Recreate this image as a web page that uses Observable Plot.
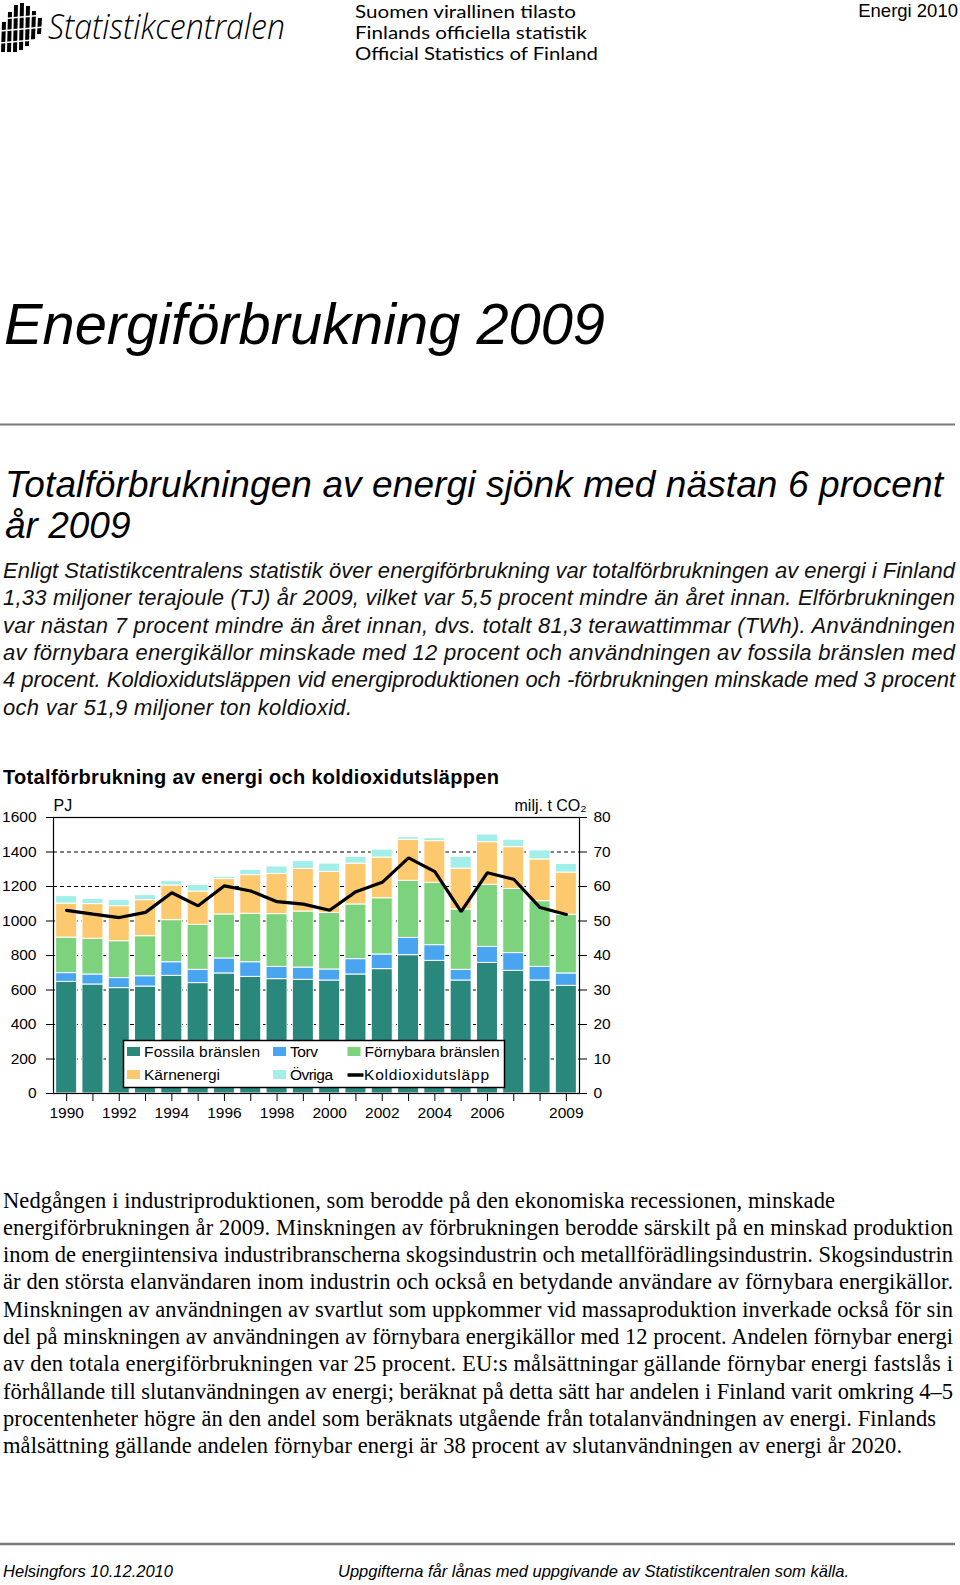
<!DOCTYPE html>
<html><head><meta charset="utf-8">
<script src="https://cdn.jsdelivr.net/npm/d3@7"></script>
<script src="https://cdn.jsdelivr.net/npm/@observablehq/plot@0.6"></script>
<style>
html,body{margin:0;padding:0;background:#fff;}
#page{position:relative;width:960px;height:1585px;overflow:hidden;background:#fff;}
#page > *{position:absolute;}
.sans{font-family:"Liberation Sans",Arial,Helvetica,sans-serif;}
.serif{font-family:"Liberation Serif","Times New Roman",serif;}
</style></head>
<body><div id="page">
<svg id="doc" width="960" height="1585" style="left:0;top:0" xmlns="http://www.w3.org/2000/svg">
  <!-- logo mark -->
  <g fill="#000">
    <polygon points="2,22 6,22 5,52 1,52"/>
    <polygon points="8,12 12,12 11,52 7,52"/>
    <polygon points="14,5 18,5 17,52 13,52"/>
    <polygon points="20,3 24,3 23,50 19,50"/>
    <polygon points="26,6 30,6 29,46 25,46"/>
    <polygon points="32,11 36,11 35,40 31,40"/>
    <polygon points="38,18 42,18 41,34 37,34"/>
  </g>
  <g stroke="#fff" stroke-width="1.6">
    <line x1="0" y1="19" x2="44" y2="15"/>
    <line x1="0" y1="31" x2="44" y2="27"/>
    <line x1="0" y1="43" x2="44" y2="39"/>
  </g>
  <text x="48" y="39" font-family="'Open Sans','Noto Sans',sans-serif" font-style="italic" font-weight="300" font-size="34" textLength="237" lengthAdjust="spacingAndGlyphs">Statistikcentralen</text>
  <g font-family="Lato,'Liberation Sans',sans-serif" font-size="17" fill="#000">
    <text x="355" y="18" textLength="221" lengthAdjust="spacingAndGlyphs">Suomen virallinen tilasto</text>
    <text x="355" y="39" textLength="232" lengthAdjust="spacingAndGlyphs">Finlands officiella statistik</text>
    <text x="355" y="60" textLength="243" lengthAdjust="spacingAndGlyphs">Official Statistics of Finland</text>
  </g>
  <text class="sans" x="958" y="17" font-size="18.5" text-anchor="end">Energi 2010</text>

  <text class="sans" x="4" y="344" font-size="58" font-style="italic" textLength="601" lengthAdjust="spacingAndGlyphs">Energiförbrukning 2009</text>
  <line x1="0" y1="424.5" x2="955" y2="424.5" stroke="#7a7a7a" stroke-width="2"/>

  <g class="sans" font-style="italic" font-size="37">
    <text x="5" y="497" textLength="938" lengthAdjust="spacing">Totalförbrukningen av energi sjönk med nästan 6 procent</text>
    <text x="5" y="537.5">år 2009</text>
  </g>

  <g class="sans" font-style="italic" font-size="22" fill="#111">
    <text x="3" y="578" textLength="952" lengthAdjust="spacing">Enligt Statistikcentralens statistik över energiförbrukning var totalförbrukningen av energi i Finland</text>
    <text x="3" y="605.3" textLength="952" lengthAdjust="spacing">1,33 miljoner terajoule (TJ) år 2009, vilket var 5,5 procent mindre än året innan. Elförbrukningen</text>
    <text x="3" y="632.6" textLength="952" lengthAdjust="spacing">var nästan 7 procent mindre än året innan, dvs. totalt 81,3 terawattimmar (TWh). Användningen</text>
    <text x="3" y="659.9" textLength="952" lengthAdjust="spacing">av förnybara energikällor minskade med 12 procent och användningen av fossila bränslen med</text>
    <text x="3" y="687.2" textLength="952" lengthAdjust="spacing">4 procent. Koldioxidutsläppen vid energiproduktionen och -förbrukningen minskade med 3 procent</text>
    <text x="3" y="714.5" textLength="349" lengthAdjust="spacing">och var 51,9 miljoner ton koldioxid.</text>
  </g>

  <text class="sans" x="3" y="784" font-size="20" font-weight="bold" textLength="496" lengthAdjust="spacing">Totalförbrukning av energi och koldioxidutsläppen</text>

  <g class="serif" font-size="22.5" fill="#000">
    <text x="3" y="1207.5" textLength="832" lengthAdjust="spacing">Nedgången i industriproduktionen, som berodde på den ekonomiska recessionen, minskade</text>
    <text x="3" y="1234.8" textLength="950" lengthAdjust="spacing">energiförbrukningen år 2009. Minskningen av förbrukningen berodde särskilt på en minskad produktion</text>
    <text x="3" y="1262.1" textLength="950" lengthAdjust="spacing">inom de energiintensiva industribranscherna skogsindustrin och metallförädlingsindustrin. Skogsindustrin</text>
    <text x="3" y="1289.4" textLength="950" lengthAdjust="spacing">är den största elanvändaren inom industrin och också en betydande användare av förnybara energikällor.</text>
    <text x="3" y="1316.7" textLength="950" lengthAdjust="spacing">Minskningen av användningen av svartlut som uppkommer vid massaproduktion inverkade också för sin</text>
    <text x="3" y="1344.0" textLength="950" lengthAdjust="spacing">del på minskningen av användningen av förnybara energikällor med 12 procent. Andelen förnybar energi</text>
    <text x="3" y="1371.3" textLength="950" lengthAdjust="spacing">av den totala energiförbrukningen var 25 procent. EU:s målsättningar gällande förnybar energi fastslås i</text>
    <text x="3" y="1398.6" textLength="950" lengthAdjust="spacing">förhållande till slutanvändningen av energi; beräknat på detta sätt har andelen i Finland varit omkring 4–5</text>
    <text x="3" y="1425.9" textLength="933" lengthAdjust="spacing">procentenheter högre än den andel som beräknats utgående från totalanvändningen av energi. Finlands</text>
    <text x="3" y="1453.2" textLength="899" lengthAdjust="spacing">målsättning gällande andelen förnybar energi är 38 procent av slutanvändningen av energi år 2020.</text>
  </g>

  <line x1="0" y1="1544" x2="955" y2="1544" stroke="#7a7a7a" stroke-width="2.5"/>
  <g class="sans" font-style="italic" font-size="17">
    <text x="3" y="1577" textLength="170" lengthAdjust="spacingAndGlyphs">Helsingfors 10.12.2010</text>
    <text x="338" y="1577" textLength="511" lengthAdjust="spacingAndGlyphs">Uppgifterna får lånas med uppgivande av Statistikcentralen som källa.</text>
  </g>
</svg>
<div id="chart" style="left:0;top:790px"></div>
<svg id="legend" width="960" height="1585" style="left:0;top:0;pointer-events:none" xmlns="http://www.w3.org/2000/svg"></svg>
</div>
<script>
// ---- data ----
const years = [1990,1991,1992,1993,1994,1995,1996,1997,1998,1999,2000,2001,2002,2003,2004,2005,2006,2007,2008,2009];
const fossila    = [647,632,611,620,682,640,696,676,663,659,655,690,721,802,769,655,757,711,655,624];
const torv       = [ 51, 58, 58, 60, 79, 77, 87, 85, 71, 71, 64, 89, 85,100, 91, 62, 93,103, 79, 72];
const fornybara  = [206,207,214,232,244,261,255,281,306,325,328,317,326,331,361,350,360,372,381,340];
const karnenergi = [197,201,203,209,201,193,205,224,233,247,238,237,236,238,242,237,247,242,242,245];
const ovriga     = [ 43, 30, 35, 29, 25, 37, 13, 31, 43, 45, 48, 39, 46, 15, 17, 68, 44, 43, 52, 50];
const co2Mt      = [53.1,52.0,51.0,52.5,58.2,54.4,60.2,58.7,55.6,54.9,53.1,58.5,61.2,68.3,64.3,52.7,64.0,62.1,53.9,51.9];
const seriesNames  = ["Fossila bränslen","Torv","Förnybara bränslen","Kärnenergi","Övriga"];
const seriesColors = ["#2a877c","#4aa5f0","#7dd27d","#fdc96f","#a2eee8"];
const lineName = "Koldioxidutsläpp";
const yTicksPJ = [0,200,400,600,800,1000,1200,1400,1600];
const xLabelYears = [1990,1992,1994,1996,1998,2000,2002,2004,2006,2009];
const pjPerMt = 20; // right axis: 80 milj. t CO2 at 1600 PJ

// ---- tables built from the arrays ----
const seriesValues = [fossila, torv, fornybara, karnenergi, ovriga];
const bars = [];
years.forEach((yr, i) => seriesNames.forEach((s, k) => bars.push({year: yr, series: s, value: seriesValues[k][i]})));
const line = years.map((yr, i) => ({year: yr, co2: co2Mt[i]}));

const font = '"Liberation Sans", Arial, Helvetica, sans-serif';
const chart = Plot.plot({
  width: 960,
  height: 335,
  marginLeft: 53,
  marginRight: 381,
  marginTop: 27,
  marginBottom: 32,
  style: {fontFamily: font, fontSize: "15.5px", background: "transparent", color: "#000"},
  x: {type: "band", domain: years, paddingInner: 0.2, paddingOuter: 0.1, round: false, label: null},
  y: {domain: [0, 1600], label: null},
  color: {domain: seriesNames, range: seriesColors},
  marks: [
    Plot.gridY(yTicksPJ.filter(t => t > 0 && t < 1600), {stroke: "#000", strokeOpacity: 1, strokeWidth: 1, strokeDasharray: "4 3"}),
    Plot.barY(bars, {x: "year", y: "value", fill: "series", z: "series", stroke: "#fff", strokeWidth: 1}),
    Plot.line(line, {x: "year", y: d => d.co2 * pjPerMt, stroke: "#000", strokeWidth: 3.2, strokeLinejoin: "miter"}),
    Plot.frame({stroke: "#000", strokeWidth: 1.2}),
    Plot.axisY({ticks: yTicksPJ, anchor: "left", tickSize: 7, tickPadding: 10, label: null, tickFormat: d => String(d)}),
    Plot.axisY({ticks: yTicksPJ, anchor: "right", tickSize: 7, tickPadding: 7, label: null, tickFormat: d => String(d / pjPerMt)}),
    Plot.axisX({ticks: years, tickSize: 8, tickPadding: 5, label: null, tickFormat: d => xLabelYears.includes(d) ? String(d) : ""}),
    Plot.text(["PJ"], {frameAnchor: "top-left", textAnchor: "start", lineAnchor: "bottom", dy: -7, fontSize: 16}),
    Plot.text(["milj. t CO₂"], {frameAnchor: "top-right", textAnchor: "end", lineAnchor: "bottom", dx: 7, dy: -7, fontSize: 16})
  ]
});
document.getElementById("chart").appendChild(chart);

// ---- legend box (drawn over the plot, as in the reference) ----
const ns = "http://www.w3.org/2000/svg";
const lg = document.getElementById("legend");
function el(tag, attrs, text) {
  const e = document.createElementNS(ns, tag);
  for (const k in attrs) e.setAttribute(k, attrs[k]);
  if (text != null) e.textContent = text;
  lg.appendChild(e);
  return e;
}
el("rect", {x: 123.5, y: 1040.5, width: 381, height: 47, fill: "#fff", stroke: "#000", "stroke-width": 1.5});
const legendItems = [
  {label: seriesNames[0], color: seriesColors[0], col: 0, row: 0, w: 116},
  {label: seriesNames[1], color: seriesColors[1], col: 1, row: 0, w: 28},
  {label: seriesNames[2], color: seriesColors[2], col: 2, row: 0, w: 135},
  {label: seriesNames[3], color: seriesColors[3], col: 0, row: 1, w: 76},
  {label: seriesNames[4], color: seriesColors[4], col: 1, row: 1, w: 43},
  {label: lineName, line: true, col: 2, row: 1, w: 125}
];
const colX = [127, 273, 347.5];
const rowBase = [1057, 1080];
legendItems.forEach(it => {
  const x = colX[it.col], b = rowBase[it.row];
  let tx;
  if (it.line) {
    el("line", {x1: x, x2: x + 16, y1: b - 5, y2: b - 5, stroke: "#000", "stroke-width": 3.5});
    tx = x + 16.5;
  } else {
    el("rect", {x: x, y: b - 10, width: 13, height: 9, fill: it.color});
    tx = x + 17;
  }
  el("text", {x: tx, y: b, "font-family": font, "font-size": 15.5, textLength: it.w, lengthAdjust: "spacing"}, it.label);
});
</script>
</body></html>
